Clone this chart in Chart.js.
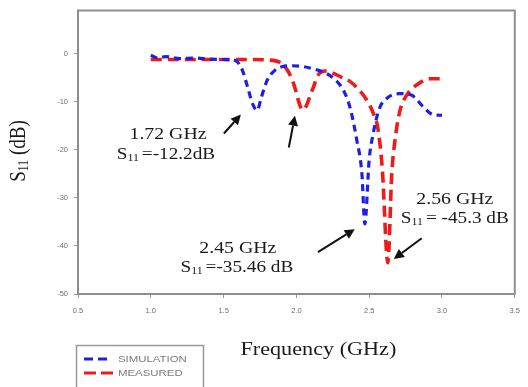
<!DOCTYPE html>
<html><head><meta charset="utf-8">
<script src="https://cdn.jsdelivr.net/npm/chart.js@4.4.1/dist/chart.umd.min.js"></script>
<style>html,body{margin:0;padding:0;background:#fff;}#wrap{width:528px;height:387px;position:relative;}</style>
</head><body><div id="wrap"><canvas id="c" width="528" height="387"></canvas></div>
<script>
// ---- data ----
const simFreq = [1.00,1.05,1.10,1.20,1.30,1.40,1.50,1.58,1.63,1.67,1.70,1.73,1.76,1.80,1.85,1.90,1.97,2.05,2.12,2.20,2.27,2.33,2.37,2.415,2.45,2.47,2.50,2.525,2.57,2.62,2.71,2.79,2.87,2.94,3.00];
const simS11  = [-0.3,-0.9,-0.6,-1.0,-0.9,-1.1,-1.2,-1.4,-3.5,-7.5,-10.5,-11.8,-9,-5.5,-3.5,-2.7,-2.5,-2.7,-3.2,-4.0,-5.5,-8.0,-11.4,-18,-25,-35.4,-22,-17,-11.4,-9.3,-8.3,-8.6,-11,-12.7,-12.8];
const measFreq = [1.00,1.10,1.20,1.30,1.40,1.50,1.60,1.70,1.80,1.886,1.94,1.976,2.045,2.11,2.15,2.20,2.27,2.33,2.37,2.43,2.48,2.53,2.56,2.59,2.628,2.655,2.676,2.71,2.76,2.83,2.92,2.985];
const measS11  = [-1.2,-1.2,-1.2,-1.2,-1.2,-1.2,-1.2,-1.2,-1.3,-1.8,-3.5,-5.8,-11.7,-7.5,-4.4,-3.6,-4.3,-5.2,-5.8,-7.5,-9.5,-12.5,-15.6,-24,-43.5,-25,-18.3,-12,-8.5,-6.4,-5.2,-5.2];
const xTicks = [0.5,1.0,1.5,2.0,2.5,3.0,3.5];
const yTicks = [-50,-40,-30,-20,-10,0];
const seriesNames = ['SIMULATION','MEASURED'];
const xTitle = 'Frequency (GHz)';
// annotation texts
const annoFreq = ['1.72 GHz','2.45 GHz','2.56 GHz'];
const annoValue = ['=-12.2dB','=-35.46 dB','= -45.3 dB'];

const SERIF = '"Liberation Serif", "DejaVu Serif", serif';
const SANS = '"Liberation Sans", Arial, sans-serif';

function drawRuns(ctx, runs, cx, cy, size, sx) {
  ctx.save();
  ctx.translate(cx, cy);
  ctx.scale(sx, 1);
  let total = 0;
  const ws = runs.map(r => { ctx.font = (r.sub ? size*0.62 : size) + 'px ' + SERIF; const w = ctx.measureText(r.t).width; total += w; return w; });
  let x = -total/2;
  ctx.textBaseline = 'middle';
  ctx.textAlign = 'left';
  runs.forEach((r, i) => {
    ctx.font = (r.sub ? size*0.62 : size) + 'px ' + SERIF;
    ctx.fillText(r.t, x, r.sub ? size*0.22 : 0);
    x += ws[i];
  });
  ctx.restore();
}
function arrow(ctx, x1, y1, x2, y2) {
  ctx.save();
  ctx.strokeStyle = '#111'; ctx.fillStyle = '#111'; ctx.lineWidth = 2;
  const a = Math.atan2(y2-y1, x2-x1);
  const hl = 10, hw = 5;
  const bx = x2 - hl*Math.cos(a), by = y2 - hl*Math.sin(a);
  ctx.beginPath(); ctx.moveTo(x1, y1); ctx.lineTo(bx, by); ctx.stroke();
  ctx.beginPath();
  ctx.moveTo(x2, y2);
  ctx.lineTo(bx + hw*Math.sin(a), by - hw*Math.cos(a));
  ctx.lineTo(bx - hw*Math.sin(a), by + hw*Math.cos(a));
  ctx.closePath(); ctx.fill();
  ctx.restore();
}

const decor = {
  id: 'decor',
  afterDraw(chart) {
    const ctx = chart.ctx, a = chart.chartArea;
    const xs = chart.scales.x, ys = chart.scales.y;
    const P = (x, y) => [xs.getPixelForValue(x), ys.getPixelForValue(y)];
    // frame
    ctx.save();
    ctx.strokeStyle = '#8e8e8e'; ctx.lineWidth = 2;
    ctx.strokeRect(a.left, a.top, a.right - a.left, a.bottom - a.top);
    ctx.restore();
    // annotations
    ctx.save();
    ctx.fillStyle = '#1a1a1a';
    const labels = [
      {f: [1.118, -16.8], v: [1.104, -21.0]},
      {f: [1.598, -40.5], v: [1.591, -44.6]},
      {f: [3.088, -30.3], v: [3.088, -34.4]}
    ];
    labels.forEach((L, i) => {
      const p1 = P(L.f[0], L.f[1]);
      drawRuns(ctx, [{t: annoFreq[i]}], p1[0], p1[1], 16.5, 1.2);
      const p2 = P(L.v[0], L.v[1]);
      drawRuns(ctx, [{t: 'S'}, {t: '11 ', sub: true}, {t: annoValue[i]}], p2[0], p2[1], 16, 1.2);
    });
    ctx.restore();
    const arrows = [
      [1.502, -16.6, 1.619, -12.65],
      [1.948, -19.5, 1.990, -12.9],
      [2.148, -41.3, 2.401, -36.5],
      [2.861, -38.4, 2.669, -42.7]
    ];
    arrows.forEach(r => { const t = P(r[0], r[1]), h = P(r[2], r[3]); arrow(ctx, t[0], t[1], h[0], h[1]); });
    // axis titles
    ctx.save();
    ctx.fillStyle = '#1a1a1a';
    drawRuns(ctx, [{t: xTitle}], (a.left + a.right)/2 + 22, 350, 18.5, 1.2);
    ctx.translate(19, 151);
    ctx.rotate(-Math.PI/2);
    ctx.scale(1, 1.2);
    drawRuns(ctx, [{t: 'S'}, {t: '11', sub: true}, {t: ' (dB)'}], 0, 0, 19, 1);
    ctx.restore();
    // legend
    ctx.save();
    ctx.strokeStyle = '#9a9a9a'; ctx.lineWidth = 1.5;
    ctx.strokeRect(76.5, 345.5, 127, 50);
    const ds = chart.data.datasets;
    [[359, 0], [373, 1]].forEach(([y, i]) => {
      ctx.save();
      ctx.strokeStyle = ds[i].borderColor; ctx.lineWidth = 3;
      ctx.setLineDash(i === 0 ? [9, 5] : [12, 5]);
      ctx.beginPath(); ctx.moveTo(84, y); ctx.lineTo(i === 0 ? 111 : 114, y); ctx.stroke();
      ctx.restore();
      ctx.save();
      ctx.fillStyle = '#7a7a7a'; ctx.font = '9.5px ' + SANS; ctx.textBaseline = 'middle';
      ctx.translate(118, y); ctx.scale(1.2, 1);
      ctx.fillText(seriesNames[i], 0, 0);
      ctx.restore();
    });
    ctx.restore();
  }
};

new Chart(document.getElementById('c'), {
  type: 'line',
  data: {
    datasets: [
      {label: seriesNames[0], data: simFreq.map((x, i) => ({x, y: simS11[i]})), borderColor: '#1e1ee8', borderWidth: 3.2, borderDash: [7, 5], pointRadius: 0, fill: false, cubicInterpolationMode: 'monotone'},
      {label: seriesNames[1], data: measFreq.map((x, i) => ({x, y: measS11[i]})), borderColor: '#f01a1a', borderWidth: 3.6, borderDash: [11, 6], pointRadius: 0, fill: false, cubicInterpolationMode: 'monotone'}
    ]
  },
  options: {
    responsive: false, animation: false, devicePixelRatio: 1,
    layout: {padding: {left: 0, right: 13, top: 8, bottom: 0}},
    plugins: {legend: {display: false}, tooltip: {enabled: false}},
    scales: {
      x: {
        type: 'linear', min: 0.5, max: 3.5,
        afterBuildTicks: s => { s.ticks = xTicks.map(v => ({value: v})); },
        ticks: {callback: v => Number(v).toFixed(1), font: {family: SANS, size: 7.5}, color: '#6f6f6f', padding: 8, maxRotation: 0, autoSkip: false},
        grid: {drawOnChartArea: false, tickLength: 4, color: '#999'},
        border: {color: '#8e8e8e', width: 2},
        afterFit: s => { s.height = 93; }
      },
      y: {
        type: 'linear', min: -50, max: 9,
        afterBuildTicks: s => { s.ticks = yTicks.map(v => ({value: v})); },
        ticks: {font: {family: SANS, size: 7.5}, color: '#6f6f6f', padding: 6, autoSkip: false},
        grid: {drawOnChartArea: false, tickLength: 4, color: '#999'},
        border: {color: '#8e8e8e', width: 2},
        afterFit: s => { s.width = 78; }
      }
    }
  },
  plugins: [decor]
});
</script>
</body></html>
